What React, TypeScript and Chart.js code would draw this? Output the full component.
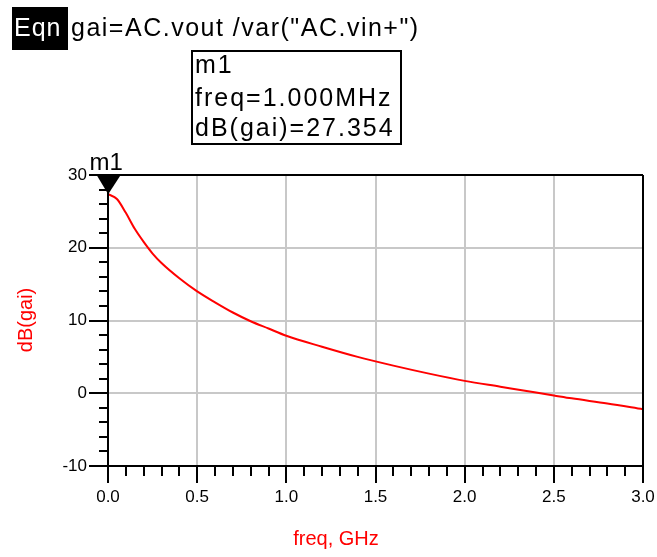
import React, { useEffect, useRef } from "react";
import { Chart, registerables } from "chart.js";

Chart.register(...registerables);

// ---- data (freq in GHz, gain in dB) ----
const freqGHz = [0.001, 0.05, 0.1, 0.15, 0.2, 0.25, 0.3, 0.4, 0.5, 0.6, 0.7, 0.8, 0.9, 1.0, 1.2, 1.4, 1.6, 1.8, 2.0, 2.2, 2.4, 2.5, 2.6, 2.8, 3.0];
const gainDB = [27.354, 26.7, 24.8, 22.6, 20.8, 19.2, 17.9, 15.8, 14.0, 12.5, 11.1, 9.9, 8.9, 7.9, 6.4, 5.0, 3.8, 2.7, 1.7, 0.9, 0.1, -0.3, -0.7, -1.4, -2.2];

const markerName = "m1";
const markerFreq = 0.001;
const markerGain = 27.354;

const xMajorTicks = [0, 0.5, 1.0, 1.5, 2.0, 2.5, 3.0];
const xMinorTicks = [0.1, 0.2, 0.3, 0.4, 0.6, 0.7, 0.8, 0.9, 1.1, 1.2, 1.3, 1.4, 1.6, 1.7, 1.8, 1.9, 2.1, 2.2, 2.3, 2.4, 2.6, 2.7, 2.8, 2.9];
const yMajorTicks = [-10, 0, 10, 20, 30];
const yMinorTicks = [-8, -6, -4, -2, 2, 4, 6, 8, 12, 14, 16, 18, 22, 24, 26, 28];

const xTitle = "freq, GHz";
const yTitle = "dB(gai)";
const eqnText = 'gai=AC.vout /var("AC.vin+")';
const markerLines = ["m1", "freq=1.000MHz", "dB(gai)=27.354"];

const FONT = '"Liberation Sans", Arial, sans-serif';

const decorPlugin = {
  id: "decor",
  afterDraw(chart: any) {
    const { ctx, chartArea, scales } = chart;
    const xs = scales.x;
    const ys = scales.y;
    ctx.save();
    ctx.strokeStyle = "#000";
    ctx.lineWidth = 2;
    ctx.lineCap = "butt";
    // frame
    ctx.beginPath();
    ctx.moveTo(chartArea.left, chartArea.top);
    ctx.lineTo(chartArea.right, chartArea.top);
    ctx.moveTo(chartArea.right, chartArea.top);
    ctx.lineTo(chartArea.right, chartArea.bottom);
    ctx.moveTo(chartArea.left, chartArea.top);
    ctx.lineTo(chartArea.left, chartArea.bottom);
    ctx.moveTo(chartArea.left, chartArea.bottom);
    ctx.lineTo(chartArea.right, chartArea.bottom);
    ctx.stroke();
    // y ticks
    ctx.beginPath();
    for (const v of yMajorTicks) {
      const y = Math.round(ys.getPixelForValue(v));
      ctx.moveTo(chartArea.left - 19, y);
      ctx.lineTo(chartArea.left, y);
    }
    for (const v of yMinorTicks) {
      const y = Math.round(ys.getPixelForValue(v));
      ctx.moveTo(chartArea.left - 9, y);
      ctx.lineTo(chartArea.left, y);
    }
    // x ticks
    for (const v of xMajorTicks) {
      const x = Math.round(xs.getPixelForValue(v));
      ctx.moveTo(x, chartArea.bottom);
      ctx.lineTo(x, chartArea.bottom + 17);
    }
    for (const v of xMinorTicks) {
      const x = Math.round(xs.getPixelForValue(v));
      ctx.moveTo(x, chartArea.bottom);
      ctx.lineTo(x, chartArea.bottom + 10);
    }
    ctx.stroke();

    // marker
    const mx = xs.getPixelForValue(markerFreq);
    const my = ys.getPixelForValue(markerGain);
    ctx.fillStyle = "#000";
    ctx.beginPath();
    ctx.moveTo(mx, my);
    ctx.lineTo(mx - 12, my - 20);
    ctx.lineTo(mx + 13, my - 20);
    ctx.closePath();
    ctx.fill();
    ctx.font = `24px ${FONT}`;
    ctx.textAlign = "center";
    ctx.textBaseline = "alphabetic";
    ctx.fillText(markerName, mx - 2, my - 24);

    // axis titles
    ctx.fillStyle = "#ff0000";
    ctx.font = `20px ${FONT}`;
    ctx.textAlign = "center";
    ctx.textBaseline = "middle";
    ctx.fillText(xTitle, 336, 539);
    ctx.save();
    ctx.translate(26, 320);
    ctx.rotate(-Math.PI / 2);
    ctx.fillText(yTitle, 0, 0);
    ctx.restore();
    ctx.restore();
  },
};

export default function App() {
  const canvasRef = useRef<HTMLCanvasElement | null>(null);

  useEffect(() => {
    const canvas = canvasRef.current;
    if (!canvas) return;
    const chart = new Chart(canvas, {
      type: "line",
      data: {
        datasets: [
          {
            data: freqGHz.map((f, i) => ({ x: f, y: gainDB[i] })),
            borderColor: "#ff0000",
            borderWidth: 2,
            pointRadius: 0,
            cubicInterpolationMode: "monotone",
            fill: false,
          },
        ],
      },
      options: {
        animation: false,
        responsive: false,
        maintainAspectRatio: false,
        layout: { padding: { top: 175, right: 14, left: 0, bottom: 0 } },
        plugins: { legend: { display: false }, tooltip: { enabled: false } },
        scales: {
          x: {
            type: "linear",
            min: 0,
            max: 3,
            afterFit: (s: any) => {
              s.height = 91;
              s.paddingLeft = 0;
              s.paddingRight = 0;
            },
            afterBuildTicks: (s: any) => {
              s.ticks = xMajorTicks.map((v) => ({ value: v }));
            },
            border: { display: false },
            grid: { color: "#c8c8c8", lineWidth: 2, drawTicks: false },
            ticks: {
              color: "#000",
              padding: 21,
              font: { family: FONT, size: 17 },
              callback: (v: any) => Number(v).toFixed(1),
            },
          },
          y: {
            type: "linear",
            min: -10,
            max: 30,
            afterFit: (s: any) => {
              s.width = 108;
              s.paddingTop = 0;
              s.paddingBottom = 0;
            },
            afterBuildTicks: (s: any) => {
              s.ticks = yMajorTicks.map((v) => ({ value: v }));
            },
            border: { display: false },
            grid: { color: "#c8c8c8", lineWidth: 2, drawTicks: false },
            ticks: {
              color: "#000",
              padding: 21,
              font: { family: FONT, size: 17 },
              callback: (v: any) => String(v),
            },
          },
        },
      },
      plugins: [decorPlugin],
    } as any);
    return () => chart.destroy();
  }, []);

  const base: React.CSSProperties = {
    position: "absolute",
    fontFamily: FONT,
    fontSize: 25,
    lineHeight: "25px",
    whiteSpace: "nowrap",
    color: "#000",
  };

  return (
    <div style={{ position: "fixed", left: 0, top: 0, width: 657, height: 557, background: "#fff" }}>
      <canvas ref={canvasRef} width={657} height={557} style={{ position: "absolute", left: 0, top: 0, width: 657, height: 557 }} />
      <div style={{ position: "absolute", left: 12, top: 7, width: 56, height: 43, background: "#000" }} />
      <div style={{ ...base, left: 14, top: 15, color: "#fff", letterSpacing: 1 }}>Eqn</div>
      <div style={{ ...base, left: 71, top: 15, letterSpacing: 1.5 }}>{eqnText}</div>
      <div style={{ position: "absolute", left: 191, top: 50, width: 207, height: 91, border: "2px solid #000" }} />
      <div style={{ ...base, left: 195, top: 52, letterSpacing: 2 }}>{markerLines[0]}</div>
      <div style={{ ...base, left: 195, top: 85, letterSpacing: 2 }}>{markerLines[1]}</div>
      <div style={{ ...base, left: 195, top: 115, letterSpacing: 2 }}>{markerLines[2]}</div>
    </div>
  );
}
